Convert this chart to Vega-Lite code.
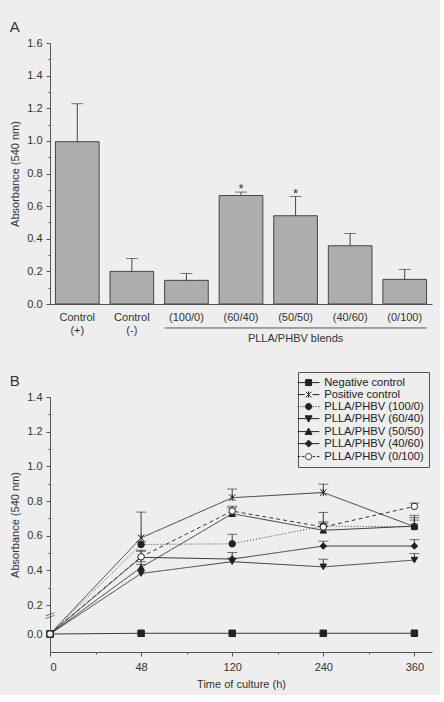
{
  "$schema": "https://vega.github.io/schema/vega-lite/v6.json",
  "padding": {"left": 9, "top": 20, "right": 8, "bottom": 6},
  "background": "#eeeeee",
  "spacing": 27,
  "datasets": {
    "bars": [
      {"group": "Control (+)", "value": 0.995, "err": 1.228, "sig": ""},
      {"group": "Control (-)", "value": 0.2, "err": 0.279, "sig": ""},
      {"group": "(100/0)", "value": 0.145, "err": 0.187, "sig": ""},
      {"group": "(60/40)", "value": 0.665, "err": 0.686, "sig": "*"},
      {"group": "(50/50)", "value": 0.541, "err": 0.659, "sig": "*"},
      {"group": "(40/60)", "value": 0.357, "err": 0.432, "sig": ""},
      {"group": "(0/100)", "value": 0.151, "err": 0.212, "sig": ""}
    ],
    "lines": [
      {"series": "Negative control", "time": 0, "mean": 0, "err": null},
      {"series": "Negative control", "time": 48, "mean": 0.005, "err": null},
      {"series": "Negative control", "time": 120, "mean": 0.005, "err": null},
      {"series": "Negative control", "time": 240, "mean": 0.005, "err": null},
      {"series": "Negative control", "time": 360, "mean": 0.005, "err": null},
      {"series": "Positive control", "time": 0, "mean": 0, "err": null},
      {"series": "Positive control", "time": 48, "mean": 0.587, "err": 0.736},
      {"series": "Positive control", "time": 120, "mean": 0.819, "err": 0.869},
      {"series": "Positive control", "time": 240, "mean": 0.849, "err": 0.897},
      {"series": "Positive control", "time": 360, "mean": 0.652, "err": 0.717},
      {"series": "PLLA/PHBV (100/0)", "time": 0, "mean": 0, "err": null},
      {"series": "PLLA/PHBV (100/0)", "time": 48, "mean": 0.549, "err": 0.565},
      {"series": "PLLA/PHBV (100/0)", "time": 120, "mean": 0.553, "err": 0.608},
      {"series": "PLLA/PHBV (100/0)", "time": 240, "mean": 0.655, "err": 0.672},
      {"series": "PLLA/PHBV (100/0)", "time": 360, "mean": 0.652, "err": 0.704},
      {"series": "PLLA/PHBV (60/40)", "time": 0, "mean": 0, "err": null},
      {"series": "PLLA/PHBV (60/40)", "time": 48, "mean": 0.382, "err": 0.434},
      {"series": "PLLA/PHBV (60/40)", "time": 120, "mean": 0.45, "err": 0.47},
      {"series": "PLLA/PHBV (60/40)", "time": 240, "mean": 0.42, "err": 0.464},
      {"series": "PLLA/PHBV (60/40)", "time": 360, "mean": 0.459, "err": 0.497},
      {"series": "PLLA/PHBV (50/50)", "time": 0, "mean": 0, "err": null},
      {"series": "PLLA/PHBV (50/50)", "time": 48, "mean": 0.417, "err": 0.45},
      {"series": "PLLA/PHBV (50/50)", "time": 120, "mean": 0.727, "err": 0.76},
      {"series": "PLLA/PHBV (50/50)", "time": 240, "mean": 0.631, "err": 0.734},
      {"series": "PLLA/PHBV (50/50)", "time": 360, "mean": 0.655, "err": 0.69},
      {"series": "PLLA/PHBV (40/60)", "time": 0, "mean": 0, "err": null},
      {"series": "PLLA/PHBV (40/60)", "time": 48, "mean": 0.475, "err": 0.516},
      {"series": "PLLA/PHBV (40/60)", "time": 120, "mean": 0.465, "err": 0.503},
      {"series": "PLLA/PHBV (40/60)", "time": 240, "mean": 0.54, "err": 0.568},
      {"series": "PLLA/PHBV (40/60)", "time": 360, "mean": 0.54, "err": 0.577},
      {"series": "PLLA/PHBV (0/100)", "time": 0, "mean": 0, "err": null},
      {"series": "PLLA/PHBV (0/100)", "time": 48, "mean": 0.478, "err": 0.51},
      {"series": "PLLA/PHBV (0/100)", "time": 120, "mean": 0.742, "err": 0.77},
      {"series": "PLLA/PHBV (0/100)", "time": 240, "mean": 0.65, "err": 0.68},
      {"series": "PLLA/PHBV (0/100)", "time": 360, "mean": 0.769, "err": 0.788}
    ]
  },
  "vconcat": [
    {
      "title": {"text": "A", "anchor": "start", "frame": "bounds", "offset": 2},
      "width": 382,
      "height": 261,
      "data": {"name": "bars"},
      "layer": [
        {
          "mark": {"type": "bar", "fill": "#adadad", "stroke": "#454545", "strokeWidth": 1},
          "encoding": {
            "x": {"field": "group", "type": "nominal", "sort": null,
              "scale": {"paddingInner": 0.2, "paddingOuter": 0.1},
              "axis": {"title": null, "ticks": false, "labelAngle": 0, "labelPadding": 7,
                "labelExpr": "split(datum.label, ' ')", "labelLineHeight": 13.5}},
            "y": {"field": "value", "type": "quantitative",
              "scale": {"domain": [0, 1.6], "nice": false},
              "axis": {"title": "Absorbance (540 nm)", "titlePadding": 6, "labelPadding": 4, "labelOverlap": false, "tickCount": 100,
                "values": [0, 0.1, 0.2, 0.3, 0.4, 0.5, 0.6, 0.7, 0.8, 0.9, 1.0, 1.1, 1.2, 1.3, 1.4, 1.5, 1.6],
                "labelExpr": "round(datum.value*10) % 2 == 1 ? '' : format(datum.value, '.1f')",
                "tickSize": {"condition": {"test": "round(datum.value*10) % 2 == 1", "value": 2}, "value": 4}}}
          }
        },
        {
          "mark": {"type": "rule", "color": "#454545", "strokeWidth": 1},
          "encoding": {
            "x": {"field": "group", "type": "nominal", "sort": null},
            "y": {"field": "value", "type": "quantitative"},
            "y2": {"field": "err"}
          }
        },
        {
          "mark": {"type": "tick", "color": "#454545", "size": 12, "thickness": 1},
          "encoding": {
            "x": {"field": "group", "type": "nominal", "sort": null},
            "y": {"field": "err", "type": "quantitative"}
          }
        },
        {
          "mark": {"type": "text", "baseline": "bottom", "dy": 4, "fontSize": 13, "color": "#333"},
          "encoding": {
            "x": {"field": "group", "type": "nominal", "sort": null},
            "y": {"field": "err", "type": "quantitative"},
            "text": {"field": "sig"}
          }
        },
        {
          "data": {"values": [{}]},
          "mark": {"type": "rule", "color": "#555", "strokeWidth": 1},
          "encoding": {
            "x": {"datum": "(100/0)", "type": "nominal", "bandPosition": 0},
            "x2": {"datum": "(0/100)", "bandPosition": 1},
            "y": {"datum": -0.147, "type": "quantitative"}
          }
        },
        {
          "data": {"values": [{}]},
          "mark": {"type": "text", "text": "PLLA/PHBV blends", "fontSize": 11, "color": "#333"},
          "encoding": {
            "x": {"datum": "(50/50)", "type": "nominal"},
            "y": {"datum": -0.213, "type": "quantitative"}
          }
        }
      ]
    },
    {
      "title": {"text": "B", "anchor": "start", "frame": "bounds", "offset": -17},
      "width": 382,
      "height": 255,
      "data": {"name": "lines"},
      "resolve": {"scale": {"shape": "independent", "fill": "independent"}},
      "layer": [
        {
          "mark": {"type": "line", "color": "#3a3a3a", "strokeWidth": 1},
          "encoding": {
            "x": {"field": "time", "type": "quantitative",
              "scale": {"domain": [0, 48, 120, 240, 360, 384], "range": [0, 91.1, 182.2, 273.3, 364.4, 382], "nice": false, "zero": false},
              "axis": {"title": "Time of culture (h)", "titlePadding": 6, "labelPadding": 5, "labelOverlap": false, "tickCount": 100,
                "values": [0, 24, 48, 84, 120, 180, 240, 300, 360],
                "labelExpr": "indexof([0, 48, 120, 240, 360], datum.value) >= 0 ? datum.label : ''",
                "tickSize": {"condition": {"test": "indexof([24, 84, 180, 300], datum.value) >= 0", "value": 2}, "value": 4}}},
            "y": {"field": "mean", "type": "quantitative",
              "scale": {"domain": [-0.1, 0, 0.2, 1.4], "range": [255, 237, 208, 0], "nice": false, "zero": false},
              "axis": {"title": "Absorbance (540 nm)", "titlePadding": 6, "labelPadding": 4, "labelOverlap": false, "tickCount": 100,
                "values": [0, 0.2, 0.3, 0.4, 0.5, 0.6, 0.7, 0.8, 0.9, 1.0, 1.1, 1.2, 1.3, 1.4],
                "labelExpr": "round(datum.value*10) % 2 == 1 ? '' : format(datum.value, '.1f')",
                "tickSize": {"condition": {"test": "round(datum.value*10) % 2 == 1", "value": 2}, "value": 4}}},
            "detail": {"field": "series"},
            "strokeDash": {"field": "series", "type": "nominal", "legend": null,
              "scale": {"domain": ["Negative control", "Positive control", "PLLA/PHBV (100/0)", "PLLA/PHBV (60/40)", "PLLA/PHBV (50/50)", "PLLA/PHBV (40/60)", "PLLA/PHBV (0/100)"],
                "range": [[1, 0], [1, 0], [1, 2], [1, 0], [1, 0], [1, 0], [4, 3]]}}
          }
        },
        {
          "transform": [{"filter": "datum.err != null"}],
          "mark": {"type": "rule", "color": "#3a3a3a", "strokeWidth": 1},
          "encoding": {
            "x": {"field": "time", "type": "quantitative"},
            "y": {"field": "mean", "type": "quantitative"},
            "y2": {"field": "err"}
          }
        },
        {
          "transform": [{"filter": "datum.err != null"}],
          "mark": {"type": "tick", "color": "#3a3a3a", "size": 10, "thickness": 1, "orient": "horizontal"},
          "encoding": {
            "x": {"field": "time", "type": "quantitative"},
            "y": {"field": "err", "type": "quantitative"}
          }
        },
        {
          "mark": {"type": "point", "filled": false, "stroke": "#222", "strokeWidth": 1, "size": 42, "opacity": 1},
          "encoding": {
            "x": {"field": "time", "type": "quantitative"},
            "y": {"field": "mean", "type": "quantitative"},
            "shape": {"field": "series", "type": "nominal", "legend": null,
              "scale": {"domain": ["Negative control", "Positive control", "PLLA/PHBV (100/0)", "PLLA/PHBV (60/40)", "PLLA/PHBV (50/50)", "PLLA/PHBV (40/60)", "PLLA/PHBV (0/100)"],
                "range": ["square", "M-1,-1L1,1M-1,1L1,-1M0,-1.1V1.1", "circle", "triangle-down", "triangle-up", "diamond", "circle"]}},
            "fill": {"field": "series", "type": "nominal", "legend": null,
              "scale": {"domain": ["Negative control", "Positive control", "PLLA/PHBV (100/0)", "PLLA/PHBV (60/40)", "PLLA/PHBV (50/50)", "PLLA/PHBV (40/60)", "PLLA/PHBV (0/100)"],
                "range": ["#222", "#222", "#222", "#222", "#222", "#222", "#ffffff"]}}
          }
        },
        {
          "transform": [{"filter": "false"}],
          "mark": {"type": "point", "filled": false, "stroke": "#222", "strokeWidth": 1, "size": 49, "opacity": 1},
          "encoding": {
            "x": {"field": "time", "type": "quantitative"},
            "y": {"field": "mean", "type": "quantitative"},
            "shape": {"field": "series", "type": "nominal",
              "scale": {"domain": ["Negative control", "Positive control", "PLLA/PHBV (100/0)", "PLLA/PHBV (60/40)", "PLLA/PHBV (50/50)", "PLLA/PHBV (40/60)", "PLLA/PHBV (0/100)"],
                "range": [
                  "M-3.1,0H3.1M-0.85,-0.85H0.85V0.85H-0.85Z",
                  "M-3.1,0H-1.1M1.1,0H3.1M-0.8,-0.8L0.8,0.8M-0.8,0.8L0.8,-0.8M0,-0.9V0.9",
                  "M-3.1,0H-2.8M-2.3,0H-2M-1.5,0H-1.2M1.2,0H1.5M2,0H2.3M2.8,0H3.1M0.9,0A0.9,0.9 0 1,1 -0.9,0A0.9,0.9 0 1,1 0.9,0Z",
                  "M-3.1,0H3.1M-1,-0.8H1L0,1Z",
                  "M-3.1,0H3.1M-1,0.8H1L0,-1Z",
                  "M-3.1,0H3.1M0,-1L1,0L0,1L-1,0Z",
                  "M-3.1,0H-2.4M-1.9,0H-1.2M1.2,0H1.9M2.4,0H3.1M0.9,0A0.9,0.9 0 1,1 -0.9,0A0.9,0.9 0 1,1 0.9,0Z"
                ]}},
            "fill": {"field": "series", "type": "nominal",
              "scale": {"domain": ["Negative control", "Positive control", "PLLA/PHBV (100/0)", "PLLA/PHBV (60/40)", "PLLA/PHBV (50/50)", "PLLA/PHBV (40/60)", "PLLA/PHBV (0/100)"],
                "range": ["#222", "#222", "#222", "#222", "#222", "#222", "#ffffff"]},
              "legend": {"title": null, "orient": "none", "legendX": 248, "legendY": -25,
                "strokeColor": "#555", "fillColor": "#eeeeee", "padding": 5,
                "symbolSize": 49, "symbolStrokeColor": "#222", "symbolStrokeWidth": 1,
                "labelFontSize": 11.2, "labelOffset": 10, "rowPadding": 0, "labelColor": "#222"}}
          }
        },
        {
          "data": {"values": [{}]},
          "mark": {"type": "point", "shape": "M-1,0.15L1,-0.55M-1,0.75L1,0.05", "size": 81, "filled": false, "stroke": "#444", "strokeWidth": 1},
          "encoding": {
            "x": {"datum": 0, "type": "quantitative"},
            "y": {"datum": 0.13, "type": "quantitative"}
          }
        }
      ]
    }
  ],
  "config": {
    "font": "Liberation Sans",
    "view": {"stroke": null},
    "axis": {"labelFontSize": 11, "titleFontSize": 11, "labelColor": "#333", "titleColor": "#333",
      "domainColor": "#555", "tickColor": "#555", "grid": false, "titleFontWeight": "normal", "labelFont": "Liberation Sans", "titleFont": "Liberation Sans"},
    "title": {"fontSize": 15, "fontWeight": "normal", "color": "#333", "font": "Liberation Sans"},
    "legend": {"labelFont": "Liberation Sans"}
  }
}
